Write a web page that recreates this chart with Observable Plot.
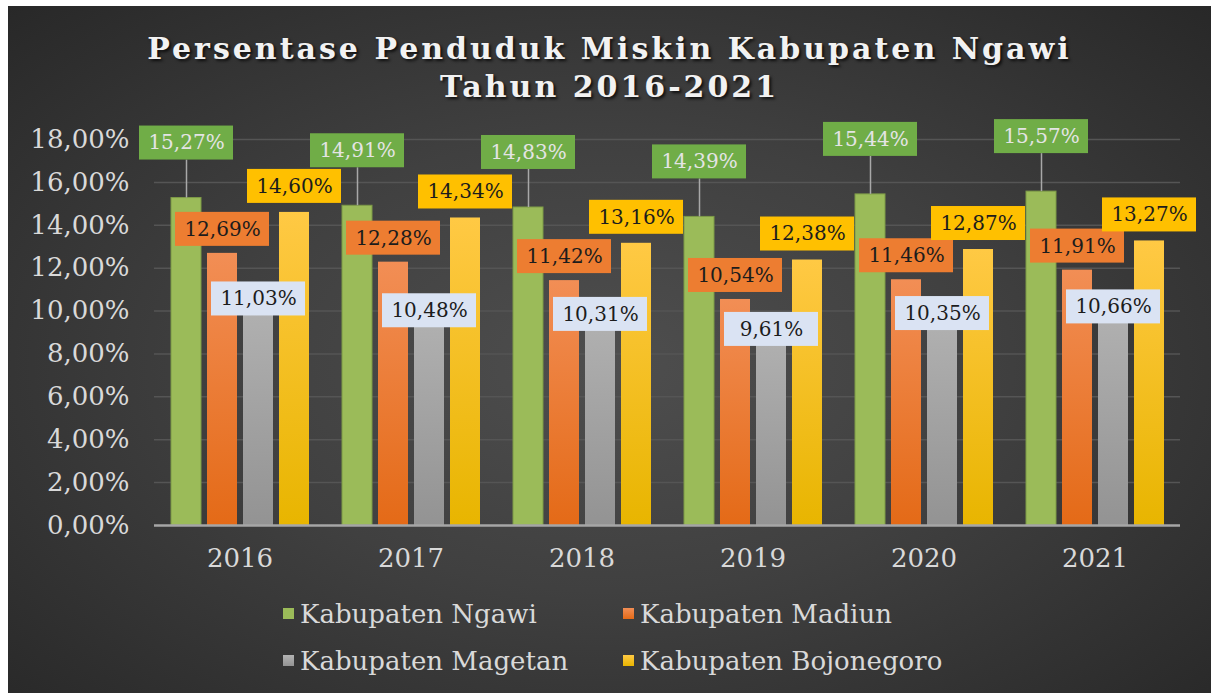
<!DOCTYPE html>
<html>
<head>
<meta charset="utf-8">
<script src="https://cdn.jsdelivr.net/npm/d3@7"></script>
<script src="https://cdn.jsdelivr.net/npm/@observablehq/plot@0.6"></script>
<style>
  html, body { margin: 0; padding: 0; background: #ffffff; }
  #chart {
    position: absolute; left: 8px; top: 6px; width: 1203px; height: 687px; overflow: hidden;
    background: radial-gradient(ellipse at 50% 52%, #4e4e4e 0%, #404040 45%, #282828 100%);
    font-family: "DejaVu Serif", serif;
  }
  #title {
    position: absolute; left: 0; top: 24px; width: 100%; text-align: center;
    color: #f2f2f2; font-weight: bold; font-size: 30px; letter-spacing: 3px; line-height: 38px;
    text-shadow: 2px 2px 3px rgba(0,0,0,0.75);
  }
  #plot { position: absolute; left: 0; top: 104px; }
  #legend {
    position: absolute; left: 275px; top: 584px;
    display: grid; grid-template-columns: 340px 340px; grid-auto-rows: 47px;
    color: #d9d9d9; font-size: 26px;
  }
  .item { display: flex; align-items: center; white-space: nowrap; }
  .sw { width: 11px; height: 11px; margin-right: 6px; flex: none; }
</style>
</head>
<body>
<div id="chart">
  <div id="title">Persentase Penduduk Miskin Kabupaten Ngawi<br>Tahun 2016-2021</div>
  <div id="plot"></div>
  <div id="legend"></div>
</div>
<script>
// ---- data ----
const years = ["2016", "2017", "2018", "2019", "2020", "2021"];
const series = ["Kabupaten Ngawi", "Kabupaten Madiun", "Kabupaten Magetan", "Kabupaten Bojonegoro"];
const ngawi = [15.27, 14.91, 14.83, 14.39, 15.44, 15.57];
const madiun = [12.69, 12.28, 11.42, 10.54, 11.46, 11.91];
const magetan = [11.03, 10.48, 10.31, 9.61, 10.35, 10.66];
const bojonegoro = [14.60, 14.34, 13.16, 12.38, 12.87, 13.27];
const yTicks = [0, 2, 4, 6, 8, 10, 12, 14, 16, 18];

const values = [ngawi, madiun, magetan, bojonegoro];
const rows = years.flatMap((yr, i) => series.map((s, j) => ({year: yr, series: s, value: values[j][i]})));
const bySeries = j => rows.filter(d => d.series === series[j]);
const fmt = v => v.toFixed(2).replace(".", ",") + "%";

// styles per series
const barFill = ["#9BBB59", "url(#gMadiun)", "url(#gMagetan)", "url(#gBojo)"];
const boxFill = ["#70AD47", "#ED7D31", "#DAE3F3", "#FFC000"];
const txtFill = ["#e4e4e4", "#1c1c1c", "#1c1c1c", "#1c1c1c"];
const labelDy = [-55, -24, 10, -26];

const marks = [
  Plot.ruleY(yTicks.filter(v => v > 0), {y: d => d, stroke: "#555555", strokeWidth: 1.5, insetLeft: -15, insetRight: -15}),
];
series.forEach((s, j) => {
  marks.push(Plot.barY(bySeries(j), {
    fx: "year", x: "series", y: "value", fill: barFill[j],
    stroke: j === 0 ? "#7d9a47" : "none", strokeWidth: 1, ariaLabel: "series-bar"
  }));
});
marks.push(Plot.ruleY([0], {y: d => d, stroke: "#a6a6a6", strokeWidth: 2.5, insetLeft: -15, insetRight: -15}));
// leader lines for Ngawi labels
marks.push(Plot.ruleX(bySeries(0), {
  fx: "year", x: "series", y1: "value", y2: "value", insetTop: -(55 - 17),
  stroke: "#a8a8a8", strokeWidth: 1.5
}));
series.forEach((s, j) => {
  marks.push(Plot.barY(bySeries(j), {
    fx: "year", x: "series", y1: "value", y2: "value", dy: labelDy[j],
    insetLeft: -32, insetRight: -32, insetTop: -17, insetBottom: -17, fill: boxFill[j]
  }));
  marks.push(Plot.text(bySeries(j), {
    fx: "year", x: "series", y: "value", dy: labelDy[j], text: d => fmt(d.value),
    fill: txtFill[j], fontSize: 20, fontFamily: "DejaVu Serif"
  }));
});
marks.push(Plot.axisY({ticks: yTicks, tickFormat: fmt, tickSize: 0, tickPadding: 40, fontSize: 26, fill: "#d9d9d9", label: null, fontFamily: "DejaVu Serif"}));
marks.push(Plot.axisFx({anchor: "bottom", tickSize: 0, tickPadding: 23, fontSize: 26, fill: "#d9d9d9", label: null, fontFamily: "DejaVu Serif"}));

const svg = Plot.plot({
  width: 1203, height: 470,
  marginTop: 29, marginBottom: 55, marginLeft: 145, marginRight: 30,
  style: {background: "transparent", fontFamily: "DejaVu Serif", overflow: "visible"},
  fx: {domain: years, paddingInner: 0.173, paddingOuter: 0.0865, label: null, axis: null},
  x: {domain: series, paddingInner: 0.18, paddingOuter: 0, axis: null},
  y: {domain: [0, 18], axis: null},
  marks
});

// gradients & shadow
const defs = d3.select(svg).insert("defs", ":first-child");
function grad(id, c1, c2) {
  const g = defs.append("linearGradient").attr("id", id).attr("x1", 0).attr("y1", 0).attr("x2", 0).attr("y2", 1);
  g.append("stop").attr("offset", "0%").attr("stop-color", c1);
  g.append("stop").attr("offset", "100%").attr("stop-color", c2);
}
grad("gMadiun", "#F28E55", "#E46A17");
grad("gMagetan", "#B3B3B3", "#939393");
grad("gBojo", "#FFC944", "#E8B500");
const f = defs.append("filter").attr("id", "shadow").attr("x", "-30%").attr("y", "-10%").attr("width", "160%").attr("height", "120%");
f.append("feDropShadow").attr("dx", 0).attr("dy", 0).attr("stdDeviation", 3).attr("flood-color", "#000").attr("flood-opacity", 0.55);
d3.select(svg).selectAll('g[aria-label="series-bar"]').attr("filter", "url(#shadow)");

document.getElementById("plot").appendChild(svg);

// legend
const swatch = [
  "#9BBB59",
  "linear-gradient(#F28E55, #E46A17)",
  "linear-gradient(#B3B3B3, #939393)",
  "linear-gradient(#FFC944, #E8B500)"
];
const legend = document.getElementById("legend");
series.forEach((s, j) => {
  const it = document.createElement("div");
  it.className = "item";
  const sw = document.createElement("span");
  sw.className = "sw";
  sw.style.background = swatch[j];
  const t = document.createElement("span");
  t.textContent = s;
  it.appendChild(sw); it.appendChild(t);
  legend.appendChild(it);
});
</script>
</body>
</html>
